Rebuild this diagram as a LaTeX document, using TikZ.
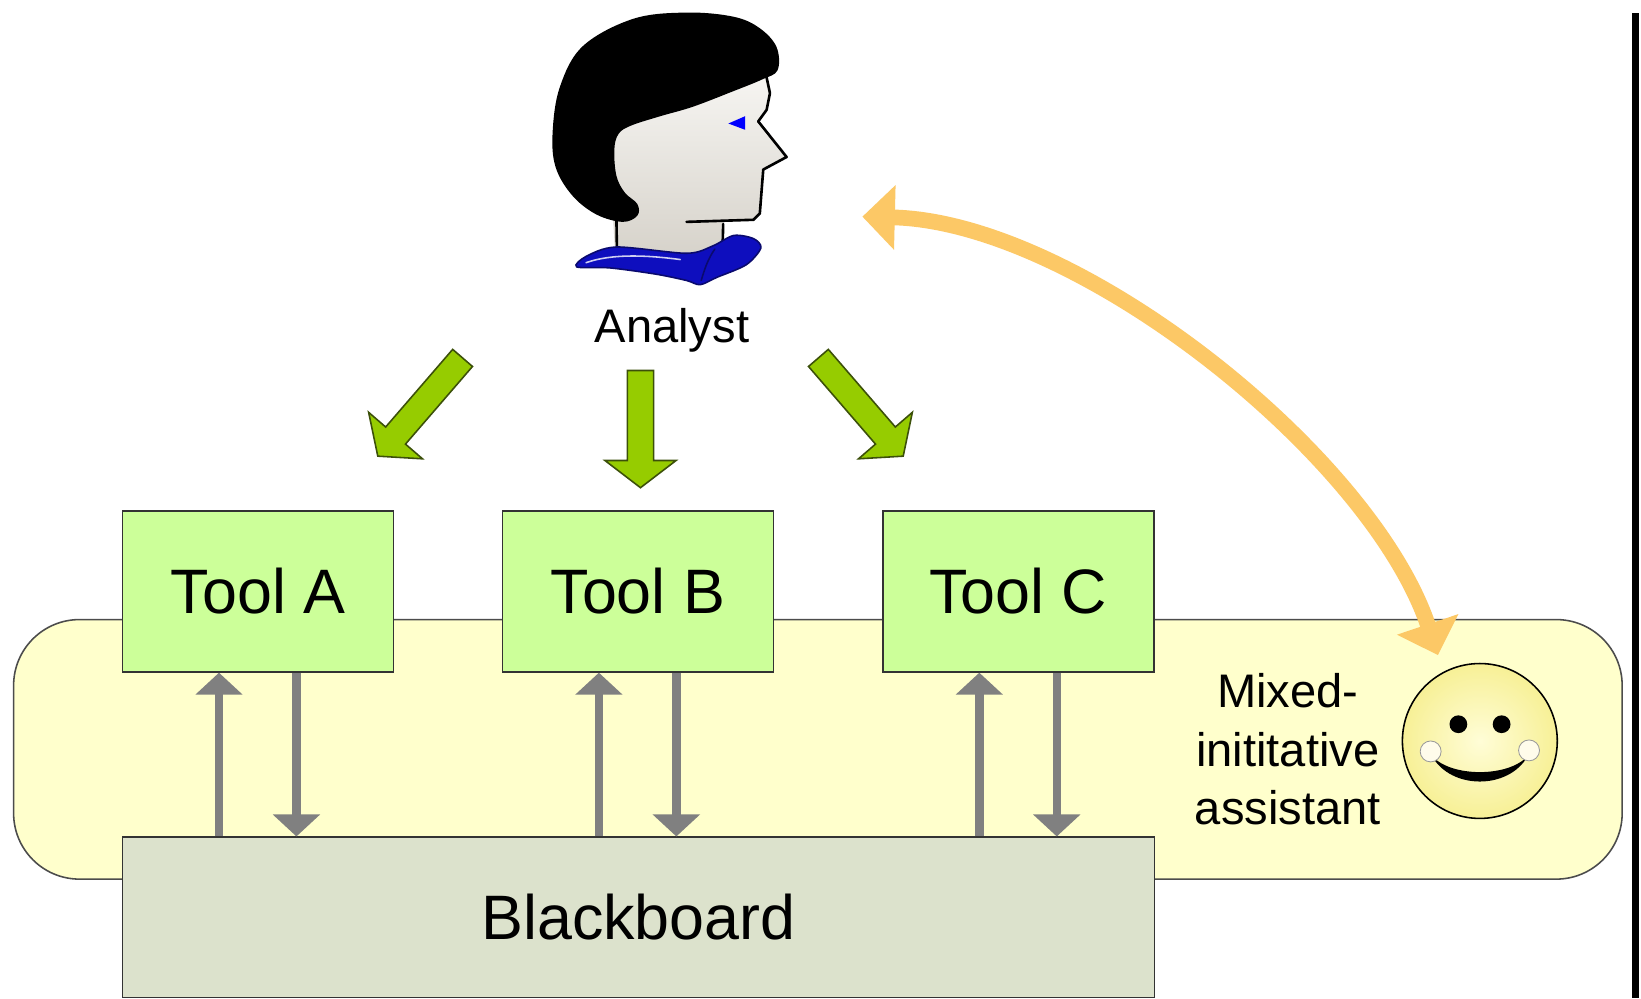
\documentclass[tikz,border=0pt]{standalone}
\usepackage{fontspec}
\setmainfont{Liberation Sans}
\usetikzlibrary{arrows.meta,calc}
\definecolor{toolgreen}{RGB}{204,255,153}
\definecolor{bbgray}{RGB}{220,226,204}
\definecolor{areayellow}{RGB}{255,255,204}
\definecolor{arrgreen}{RGB}{150,204,0}
\definecolor{arrgreenedge}{RGB}{60,80,10}
\definecolor{orangearr}{RGB}{252,200,102}
\definecolor{collarblue}{RGB}{14,14,190}
\definecolor{collaredge}{RGB}{10,10,110}
\definecolor{arrowgray}{RGB}{128,128,128}
\definecolor{facelight}{RGB}{248,247,244}
\definecolor{facedark}{RGB}{214,210,202}
\definecolor{smileyin}{RGB}{255,253,215}
\definecolor{smileyout}{RGB}{247,240,150}
\definecolor{cheek}{RGB}{255,252,235}
\tikzset{
  toolbox/.style={draw=black!80, line width=1.5pt, fill=toolgreen, minimum width=259pt,
    minimum height=154pt, inner sep=0pt, font=\fontsize{60}{72}\selectfont},
  bbbox/.style={draw=black!80, line width=1.5pt, fill=bbgray, minimum width=986pt,
    minimum height=153pt, inner sep=0pt, font=\fontsize{60}{72}\selectfont},
  areabox/.style={draw=black!70, line width=1.5pt, fill=areayellow, minimum width=1537pt,
    minimum height=248pt, rounded corners=63pt, inner sep=0pt},
  grayarr/.style={draw=arrowgray, line width=8pt, -{Triangle[length=21pt,width=44pt]}},
  greenarrow/.style={fill=arrgreen, draw=arrgreenedge, line width=1.5pt, line join=miter},
  orangecurve/.style={draw=orangearr, line width=15pt,
    {Triangle[length=31pt,width=60pt]}-{Triangle[length=31pt,width=60pt]}},
  outline/.style={draw=black, line width=2.5pt, line join=round, line cap=round},
  labeltext/.style={font=\fontsize{45}{56}\selectfont, align=center, inner sep=0pt}
}
\newcommand\greenarr[4]{%
  \begin{scope}[shift={(#1,#2)},rotate=#3]
    \filldraw[greenarrow] (0,-12.5) -- (#4,-12.5) -- (#4,-34) -- ({#4+26},0)
      -- (#4,34) -- (#4,12.5) -- (0,12.5) -- cycle;
  \end{scope}}
\begin{document}
\begin{tikzpicture}[x=1pt,y=-1pt]
\useasboundingbox (0,0) rectangle (1568,954);
\fill[white] (0,0) rectangle (1568,954);
% right border bar
\fill[black] (1559,12) rectangle (1566,954);

% ---------- analyst figure ----------
\shade[top color=facelight, bottom color=facedark]
  (580,110) -- (640,80) -- (730,62) -- (732.5,75) -- (735.7,89) -- (732.5,105)
  -- (724.5,116) -- (751.6,150) -- (729.3,162) -- (726,204) -- (720,210)
  -- (691,212) -- (691,246) -- (588,246) -- cycle;
\fill[black] plot[smooth cycle, tension=0.6] coordinates {
  (701,16) (656,12) (605,18) (557,44) (535,83) (528,127) (531,160) (547,187)
  (570,205) (595,212) (609,206) (609,195) (597,184) (589,168) (587,143)
  (591,128) (603,120) (631,111) (662,102) (701,87) (728,76) (743,67)
  (742,45) (726,27)};
\draw[outline] (732.5,74) -- (735.7,89) -- (732.5,105) -- (724.5,116)
  -- (751.6,150) -- (729.3,162) -- (726,204) -- (720,210) -- (656,212);
\draw[outline] (589,209) -- (589.5,240);
\draw[outline] (691,214) -- (690.5,234);
\filldraw[fill=collarblue, draw=collaredge, line width=1.5pt]
  plot[smooth cycle, tension=0.5] coordinates {
  (551,255) (560,245) (589,236) (656,242) (681,235) (701,225) (720,228)
  (727,237) (713,253) (685,265) (669,272) (656,268) (627,262) (583,256)};
\draw[white!80!collarblue, line width=1.5pt, line cap=round]
  (560,251) .. controls (585,242) and (620,244) .. (650,248);
\draw[collaredge, line width=1.5pt, line cap=round]
  (683,238) .. controls (676,248) and (673,258) .. (670,268);
\fill[blue] (696,118) -- (712,111) -- (712,124) -- cycle;
\node[labeltext] (analyst) at (642,316) {Analyst};
\coordinate (analystport) at (824,207);

% ---------- green arrows ----------
\greenarr{442}{342}{-130.8}{98}
\greenarr{612}{354}{-90}{86}
\greenarr{782}{342}{-49.2}{98}

% ---------- assistant area ----------
\node[areabox] (area) at (781.5,716) {};

% ---------- tools and blackboard ----------
\node[toolbox] (toolA) at (246.5,565) {Tool A};
\node[toolbox] (toolB) at (609.5,565) {Tool B};
\node[toolbox] (toolC) at (973,565) {Tool C};
\node[bbbox] (bb) at (610,876.5) {Blackboard};

% ---------- gray arrows ----------
\foreach \t in {toolA,toolB,toolC}{
  \coordinate (\t up) at ($(\t.south west)+(93,0)$);
  \coordinate (\t dn) at ($(\t.south west)+(167,0)$);
  \draw[grayarr] (\t up |- bb.north) -- (\t up);
  \draw[grayarr] (\t dn) -- (\t dn |- bb.north);
}

% ---------- assistant ----------
\node[labeltext] (assist) at (1230.5,716) {Mixed-\\inititative\\assistant};
\node[circle, draw=black, line width=1.5pt, minimum size=148pt, inner sep=0pt,
  inner color=smileyin, outer color=smileyout] (smiley) at (1414,708) {};
\begin{scope}[shift={(smiley.center)}]
  \fill[black] (-20.5,-16) circle (8.5);
  \fill[black] (20.8,-16) circle (8.5);
  \fill[black] (-46,14) .. controls (-28,47) and (28,47) .. (46,14)
    .. controls (28,35) and (-28,35) .. (-46,14) -- cycle;
  \filldraw[fill=cheek, draw=black!40, line width=0.8pt] (-47,10) circle (10);
  \filldraw[fill=cheek, draw=black!40, line width=0.8pt] (47,9) circle (10);
\end{scope}
\coordinate (smileport) at (1374,626);

% ---------- orange interaction arrow ----------
\draw[orangecurve] (analystport) .. controls (1030,212) and (1310,435) .. (smileport);
\end{tikzpicture}
\end{document}
